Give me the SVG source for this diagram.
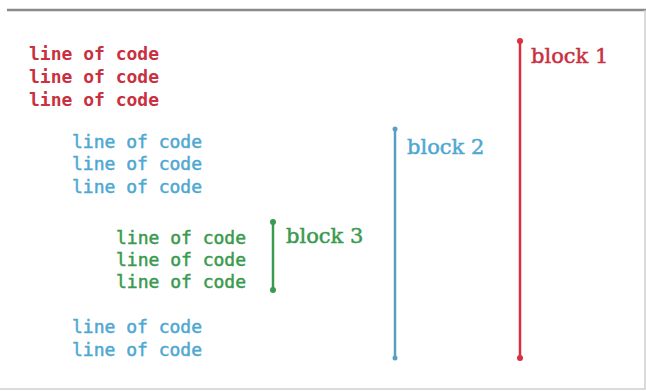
<svg xmlns="http://www.w3.org/2000/svg" width="646" height="391" viewBox="0 0 646 391">
<style>
.code{font-family:"DejaVu Sans Mono","Liberation Mono",monospace;font-size:18px}
.lbl{font-family:"DejaVu Serif","Liberation Serif",serif;font-size:21px;stroke-width:0.5}
.red{fill:#c93040;stroke:#c93040}
.blue{fill:#4fa8d2;stroke:#4fa8d2}
.green{fill:#3a9a4e;stroke:#3a9a4e}
.thin{stroke-width:0.5}
.bar{stroke-width:2.5;fill:none}
</style>
<rect x="0" y="0" width="646" height="391" fill="#ffffff"/>
<g id="frame">
<line x1="7" y1="10" x2="646" y2="10" stroke="#8a8a8a" stroke-width="2.5"/>
<line x1="645" y1="10" x2="645" y2="389" stroke="#cfcfcf" stroke-width="1.5"/>
<line x1="0" y1="389" x2="646" y2="389" stroke="#cfcfcf" stroke-width="1.5"/>
</g>
<g id="block1-code" class="code red" font-weight="bold" stroke-width="0">
<text x="29" y="60">line of code</text>
<text x="29" y="83">line of code</text>
<text x="29" y="106">line of code</text>
</g>
<g id="block2-code-top" class="code blue thin">
<text x="72" y="148">line of code</text>
<text x="72" y="170">line of code</text>
<text x="72" y="193">line of code</text>
</g>
<g id="block3-code" class="code green thin">
<text x="116" y="244">line of code</text>
<text x="116" y="266">line of code</text>
<text x="116" y="288">line of code</text>
</g>
<g id="block2-code-bottom" class="code blue thin">
<text x="72" y="333">line of code</text>
<text x="72" y="356">line of code</text>
</g>
<g id="connectors">
<g id="bar1">
<line class="bar" x1="520" y1="40" x2="520" y2="358" stroke="#d93040"/>
<circle cx="520" cy="41" r="3" fill="#d93040"/>
<circle cx="520" cy="358" r="3" fill="#d93040"/>
</g>
<g id="bar2">
<line class="bar" x1="395" y1="128" x2="395" y2="358" stroke="#5a9ec4"/>
<circle cx="395" cy="129" r="2.5" fill="#5a9ec4"/>
<circle cx="395" cy="358" r="2.5" fill="#5a9ec4"/>
</g>
<g id="bar3">
<line class="bar" x1="273" y1="222" x2="273" y2="290" stroke="#3a9a4e"/>
<circle cx="273" cy="222" r="3" fill="#3a9a4e"/>
<circle cx="273" cy="290" r="3" fill="#3a9a4e"/>
</g>
</g>
<g id="label1"><text class="lbl red" x="531" y="63">block 1</text></g>
<g id="label2"><text class="lbl blue" x="407" y="154">block 2</text></g>
<g id="label3"><text class="lbl green" x="286" y="243">block 3</text></g>
</svg>
